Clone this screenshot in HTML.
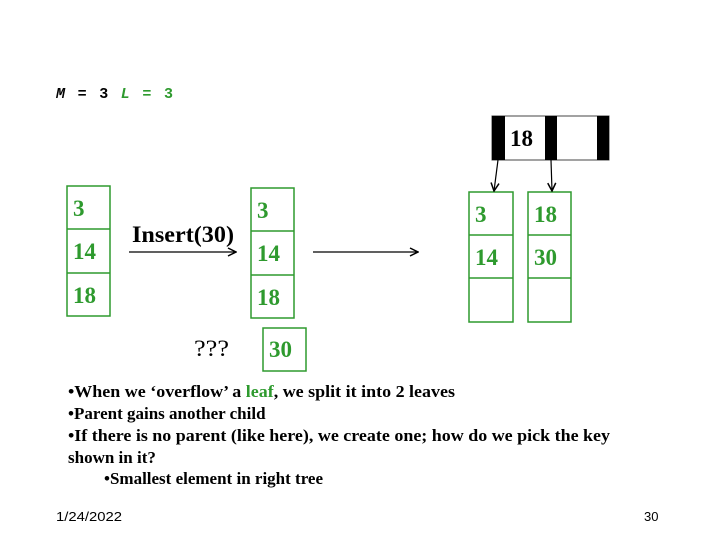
<!DOCTYPE html>
<html><head><style>body{margin:0;background:#fff}</style></head><body>
<svg width="720" height="540" xmlns="http://www.w3.org/2000/svg" style="display:block">
<defs><marker id="a" markerWidth="10" markerHeight="10" refX="9" refY="5" orient="auto" markerUnits="userSpaceOnUse"><path d="M1,1 L9,5 L1,9" fill="none" stroke="#000" stroke-width="1.5"/></marker></defs>
<text x="56" y="98" font-family="Liberation Mono" font-size="15" font-weight="bold" textLength="117" lengthAdjust="spacing"><tspan font-style="italic">M</tspan> = 3 <tspan fill="#2e9a2e"><tspan font-style="italic">L</tspan> = 3</tspan></text>
<g fill="#fff" stroke="#2e9a2e" stroke-width="1.5">
<rect x="67" y="186" width="43" height="130"/><line x1="67" y1="229" x2="110" y2="229"/><line x1="67" y1="273" x2="110" y2="273"/>
<rect x="251" y="188" width="43" height="130"/><line x1="251" y1="231" x2="294" y2="231"/><line x1="251" y1="275" x2="294" y2="275"/>
<rect x="469" y="192" width="44" height="130"/><line x1="469" y1="235" x2="513" y2="235"/><line x1="469" y1="278" x2="513" y2="278"/>
<rect x="528" y="192" width="43" height="130"/><line x1="528" y1="235" x2="571" y2="235"/><line x1="528" y1="278" x2="571" y2="278"/>
<rect x="263" y="328" width="43" height="43"/>
</g>
<g font-family="Liberation Serif" font-size="23" font-weight="bold" fill="#2e9a2e">
<text x="73" y="216">3</text><text x="73" y="259">14</text><text x="73" y="303">18</text>
<text x="257" y="218">3</text><text x="257" y="261">14</text><text x="257" y="305">18</text>
<text x="475" y="222">3</text><text x="475" y="265">14</text>
<text x="534" y="222">18</text><text x="534" y="265">30</text>
<text x="269" y="357">30</text>
</g>
<rect x="492" y="116" width="117" height="44" fill="#fff" stroke="#444" stroke-width="1"/>
<rect x="492" y="116" width="13" height="44" fill="#000"/><rect x="545" y="116" width="12" height="44" fill="#000"/><rect x="597" y="116" width="12" height="44" fill="#000"/>
<text x="510" y="146" font-family="Liberation Serif" font-size="23" font-weight="bold">18</text>
<line x1="498" y1="160" x2="494" y2="191" stroke="#000" stroke-width="1.2" marker-end="url(#a)"/>
<line x1="551" y1="160" x2="552" y2="191" stroke="#000" stroke-width="1.2" marker-end="url(#a)"/>
<line x1="129" y1="252" x2="236" y2="252" stroke="#000" stroke-width="1.2" marker-end="url(#a)"/>
<line x1="313" y1="252" x2="418" y2="252" stroke="#000" stroke-width="1.2" marker-end="url(#a)"/>
<text x="132" y="242" font-family="Liberation Serif" font-size="23" font-weight="bold" textLength="102" lengthAdjust="spacingAndGlyphs">Insert(30)</text>
<text x="194" y="356" font-family="Liberation Serif" font-size="23" textLength="35" lengthAdjust="spacingAndGlyphs">???</text>
<g font-family="Liberation Serif" font-size="17" font-weight="bold">
<text x="68" y="397" textLength="387" lengthAdjust="spacingAndGlyphs">•When we ‘overflow’ a <tspan fill="#2e9a2e">leaf</tspan>, we split it into 2 leaves</text>
<text x="68" y="419">•Parent gains another child</text>
<text x="68" y="441" textLength="542" lengthAdjust="spacingAndGlyphs">•If there is no parent (like here), we create one; how do we pick the key</text>
<text x="68" y="463">shown in it?</text>
<text x="104" y="484">•Smallest element in right tree</text>
</g>
<text x="56" y="521" font-family="Liberation Sans" font-size="13" textLength="66" lengthAdjust="spacingAndGlyphs">1/24/2022</text>
<text x="644" y="521" font-family="Liberation Sans" font-size="13">30</text>
</svg>
</body></html>
